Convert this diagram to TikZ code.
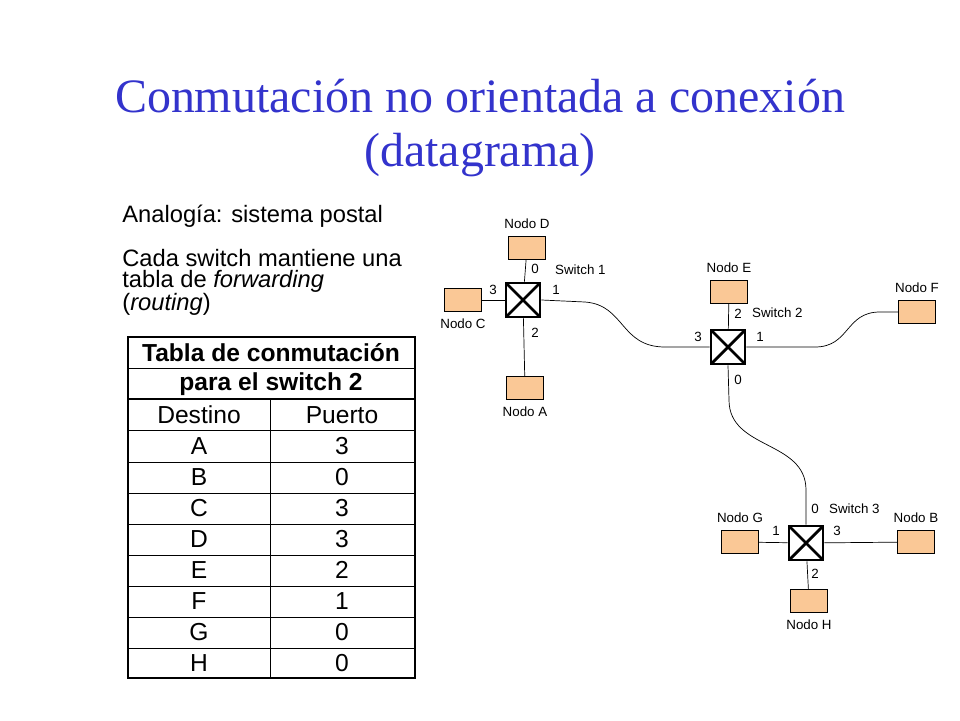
\documentclass[tikz,border=0pt]{standalone}
\usepackage{fontspec}
\setmainfont{Liberation Sans}
\newfontfamily\titlefont{Liberation Serif}
\usetikzlibrary{positioning}
\definecolor{titleblue}{RGB}{51,51,204}
\definecolor{nodefill}{RGB}{250,200,150}
\tikzset{
  hostbox/.style = {draw, fill=nodefill, minimum width=0.74cm, minimum height=0.46cm, inner sep=0pt},
  swbox/.style = {draw, line width=1.6pt, minimum size=0.68cm, inner sep=0pt},
  small/.style = {font=\fontsize{7.6}{9}\selectfont, inner sep=1pt},
  cell/.style = {font=\fontsize{14}{16}\selectfont}
}
\begin{document}
\begin{tikzpicture}[x=0.02cm, y=-0.02cm]
    \useasboundingbox (0,0) rectangle (960,720);
    % title and text
    \node[text=titleblue, font=\titlefont\fontsize{27.3}{31}\selectfont, align=center] (title) at (480,128)
        {Conmutación no orientada a conexión\\(datagrama)};
    \node[anchor=north west, font=\fontsize{13.5}{12}\selectfont, align=left, inner sep=0pt] (txt) at (122,205)
        {Analogía: sistema postal\\[11pt]Cada switch mantiene una\\tabla de \textit{forwarding}\\(\textit{routing})};
    % table
    \draw[line width=0.8pt] (128,337) rectangle (415,678);
    \draw (128,368) -- (415,368);
    \draw[line width=1.2pt] (128,399) -- (415,399);
    \draw (270,399) -- (270,678);
    \foreach\r in {430, 462, 493, 524, 555, 586, 617, 648}
        {\draw (128,\r) -- (415,\r);};
    \node[cell, font=\bfseries\fontsize{14}{16}\selectfont] (th1) at (271,353) {Tabla de conmutación};
    \node[cell, font=\bfseries\fontsize{14}{16}\selectfont] (th2) at (271,384) {para el switch 2};
    \node[cell] (hd) at (199,415) {Destino};
    \node[cell] (hp) at (342,415) {Puerto};
    \foreach\d/\p [count=\k] in {A/3, B/0, C/3, D/3, E/2, F/1, G/0, H/0}
        {\node[cell] (d\d) at (199,415+31*\k) {\d};
         \node[cell] (p\d) at (342,415+31*\k) {\p};};
    % switches
    \node[swbox] (sw1) at (523,300) {};
    \node[swbox] (sw2) at (728,347) {};
    \node[swbox] (sw3) at (806,543) {};
    \foreach\s in {sw1, sw2, sw3}
        {\draw[line width=1.6pt, shorten >=1.2pt, shorten <=1.2pt] (\s.north west) -- (\s.south east);
         \draw[line width=1.6pt, shorten >=1.2pt, shorten <=1.2pt] (\s.north east) -- (\s.south west);};
    % hosts
    \node[hostbox] (nD) at (527,248) {};
    \node[hostbox] (nC) at (463,300) {};
    \node[hostbox] (nA) at (525,388) {};
    \node[hostbox] (nE) at (729,292) {};
    \node[hostbox] (nF) at (917,312) {};
    \node[hostbox] (nG) at (740,542) {};
    \node[hostbox] (nB) at (916,542) {};
    \node[hostbox] (nH) at (809,601) {};
    \node[small, above=3pt of nD] (lD) {Nodo D};
    \node[small, below=3pt of nC] (lC) {Nodo C};
    \node[small, below=3pt of nA] (lA) {Nodo A};
    \node[small, above=3pt of nE] (lE) {Nodo E};
    \node[small, above=3pt of nF] (lF) {Nodo F};
    \node[small, above=3pt of nG] (lG) {Nodo G};
    \node[small, above=3pt of nB] (lB) {Nodo B};
    \node[small, below=3pt of nH] (lH) {Nodo H};
    % links
    \draw (nD) -- (sw1);
    \draw (nC) -- (sw1);
    \draw (nA) -- (sw1);
    \draw (nE) -- (sw2);
    \draw (nG) -- (sw3);
    \draw (nB) -- (sw3);
    \draw (nH) -- (sw3);
    \draw (sw1.east) -- (585,302) .. controls (625,305) and (620,347) .. (665,347) -- (sw2.west);
    \draw (sw2.east) -- (815,347) .. controls (850,347) and (845,312) .. (880,312) -- (nF.west);
    \draw (sw2.south) -- (729,400) .. controls (729,450) and (806,440) .. (806,490) -- (sw3.north);
    % port labels
    \node[small] (p10) at (535,269) {0};
    \node[small] (p13) at (493,290) {3};
    \node[small] (p11) at (556,290) {1};
    \node[small] (p12) at (535,333) {2};
    \node[small, anchor=west] (s1) at (553,270) {Switch 1};
    \node[small] (p22) at (738,314) {2};
    \node[small] (p23) at (698,337) {3};
    \node[small] (p21) at (760,337) {1};
    \node[small] (p20) at (738,380) {0};
    \node[small, anchor=west] (s2) at (750,313) {Switch 2};
    \node[small] (p30) at (815,509) {0};
    \node[small] (p31) at (776,531) {1};
    \node[small] (p33) at (837,531) {3};
    \node[small] (p32) at (815,574) {2};
    \node[small, anchor=west] (s3) at (827,509) {Switch 3};
\end{tikzpicture}
\end{document}
